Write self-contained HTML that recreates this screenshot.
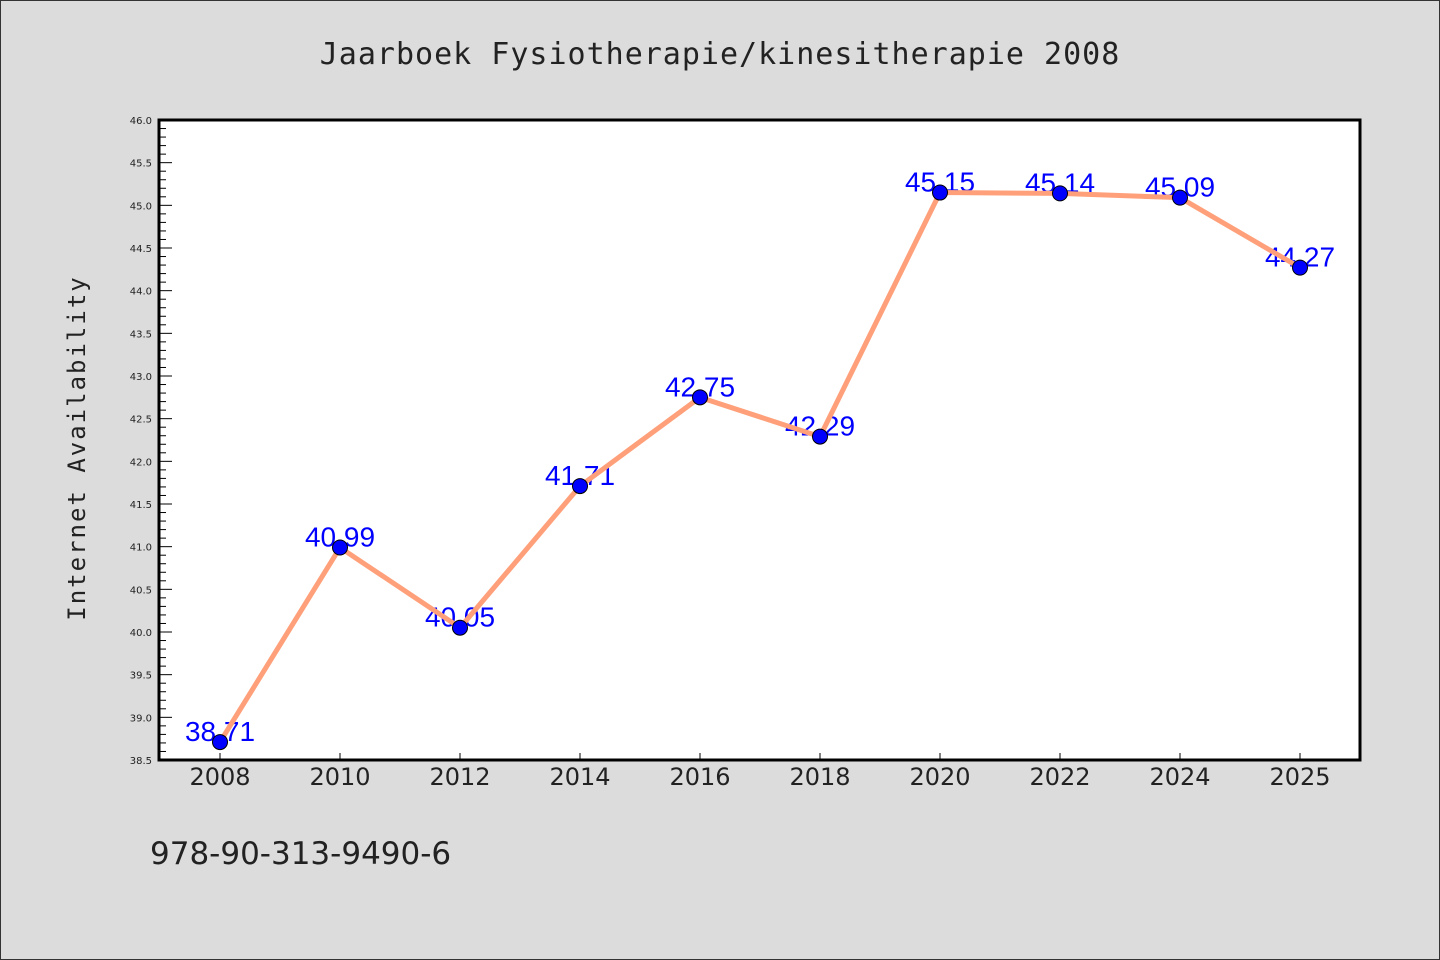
<!DOCTYPE html>
<html><head><meta charset="utf-8"><style>
html,body{margin:0;padding:0;background:#dcdcdc;}
svg{display:block;}
</style></head><body>
<svg id="chart" width="1440" height="960" xmlns="http://www.w3.org/2000/svg">
<rect x="0.5" y="0.5" width="1439" height="959" fill="#dcdcdc" stroke="#333" stroke-width="1"/>
<text x="720" y="64" text-anchor="middle" font-family="'WenQuanYi Zen Hei','DejaVu Sans Mono',monospace" font-size="30" fill="#222" letter-spacing="1">Jaarboek Fysiotherapie/kinesitherapie 2008</text>
<rect x="159" y="120" width="1201" height="640" fill="#fff"/>
<g id="yticks"></g>
<g id="xticks"></g>
<g id="labels"></g>
<g id="series"></g>
<rect x="159" y="120" width="1201" height="640" fill="none" stroke="#000" stroke-width="3"/>
<text transform="translate(85,448) rotate(-90)" text-anchor="middle" font-family="'WenQuanYi Zen Hei','DejaVu Sans Mono',monospace" font-size="24" fill="#222" letter-spacing="2">Internet Availability</text>
<text x="150" y="864" font-family="'WenQuanYi Zen Hei','DejaVu Sans',sans-serif" font-size="31" fill="#222">978-90-313-9490-6</text>
</svg>
<script>
const categories = ["2008","2010","2012","2014","2016","2018","2020","2022","2024","2025"];
const values = [38.71, 40.99, 40.05, 41.71, 42.75, 42.29, 45.15, 45.14, 45.09, 44.27];
const valueLabels = ["38.71","40.99","40.05","41.71","42.75","42.29","45.15","45.14","45.09","44.27"];
const yTickLabels = ["38.5","39.0","39.5","40.0","40.5","41.0","41.5","42.0","42.5","43.0","43.5","44.0","44.5","45.0","45.5","46.0"];
const yMin = 38.5, yMax = 46.0;
const NS = "http://www.w3.org/2000/svg";
function xPos(i){ return 220 + i * 120; }
function yPos(v){ return 760 - (v - yMin) / (yMax - yMin) * 640; }
function mk(tag, attrs, parent){ const e=document.createElementNS(NS,tag); for(const k in attrs) e.setAttribute(k,attrs[k]); parent.appendChild(e); return e; }
const yt=document.getElementById('yticks');
for(let k=0;k<=75;k++){
  const v=yMin+k*0.1, y=yPos(v), major=k%5===0;
  const t=mk('line',{x1:159,x2:major?172:166,y1:y,y2:y,stroke:'#000','stroke-width':1},yt);
  
  
}
yTickLabels.forEach(function(l){
  const t=mk('text',{x:152,y:yPos(parseFloat(l))+4,'text-anchor':'end','font-family':'DejaVu Sans,sans-serif','font-size':10,fill:'#222'},yt);
  t.textContent=l;
  
  
});
const xt=document.getElementById('xticks');
categories.forEach(function(c,i){
  const t=mk('line',{x1:xPos(i),x2:xPos(i),y1:760,y2:753,stroke:'#000','stroke-width':1},xt);
  
  
  const l=mk('text',{x:xPos(i),y:785,'text-anchor':'middle','font-family':"'WenQuanYi Zen Hei','DejaVu Sans',sans-serif",'font-size':24,fill:'#222'},xt);
  l.textContent=c;
  
  
});
const lb=document.getElementById('labels');
values.forEach(function(v,i){
  const t=mk('text',{x:xPos(i),y:yPos(v)-1,'text-anchor':'middle','font-family':'Liberation Sans,sans-serif','font-size':28,fill:'#0000ff'},lb);
  t.textContent=valueLabels[i];
  
  
});
const sr=document.getElementById('series');
const pts=values.map(function(v,i){return xPos(i)+','+yPos(v);}).join(' ');
const pl=mk('polyline',{points:pts,fill:'none',stroke:'#ffa07a','stroke-width':5,'stroke-linejoin':'round'},sr);


values.forEach(function(v,i){
  const c=mk('circle',{cx:xPos(i),cy:yPos(v),r:7.5,fill:'#0000ff',stroke:'#000','stroke-width':1},sr);
  
  
});
</script>
</body></html>
